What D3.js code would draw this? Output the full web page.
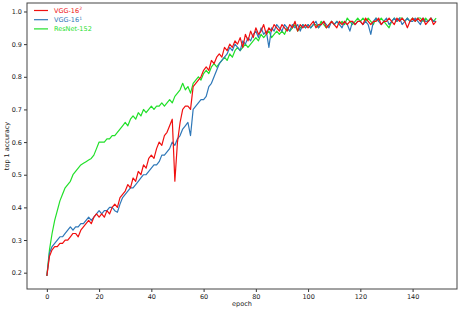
<!DOCTYPE html>
<html>
<head>
<meta charset="utf-8">
<script src="https://cdn.jsdelivr.net/npm/d3@7"></script>
<style>
  body { margin: 0; background: #fff; }
  text { font-family: "DejaVu Sans", sans-serif; }
</style>
</head>
<body>
<svg id="chart" width="460" height="311"></svg>
<script>
// values, one per epoch (0..149)
const vgg16b = [
  0.19, 0.25, 0.27, 0.28, 0.28, 0.29, 0.29, 0.30, 0.30, 0.31,
  0.32, 0.32, 0.31, 0.33, 0.34, 0.35, 0.36, 0.35, 0.37, 0.38,
  0.37, 0.38, 0.37, 0.39, 0.38, 0.40, 0.41, 0.40, 0.43, 0.44,
  0.45, 0.47, 0.46, 0.49, 0.48, 0.51, 0.50, 0.53, 0.52, 0.55,
  0.56, 0.55, 0.58, 0.60, 0.59, 0.62, 0.63, 0.65, 0.67, 0.48,
  0.60, 0.66, 0.70, 0.71, 0.71, 0.70, 0.77, 0.78, 0.79, 0.80,
  0.82, 0.83, 0.82, 0.85, 0.84, 0.86, 0.87, 0.86, 0.89, 0.88,
  0.90, 0.89, 0.91, 0.90, 0.92, 0.89, 0.93, 0.91, 0.94, 0.92,
  0.95, 0.93, 0.94, 0.96, 0.93, 0.95, 0.94, 0.96, 0.95, 0.94,
  0.96, 0.95, 0.94, 0.96, 0.95, 0.97, 0.94, 0.96, 0.95, 0.96,
  0.95, 0.96, 0.97, 0.95, 0.96, 0.96, 0.97, 0.95, 0.96, 0.97,
  0.96, 0.95, 0.97, 0.96, 0.97, 0.96, 0.97, 0.97, 0.96, 0.97,
  0.97, 0.96, 0.98, 0.97, 0.96, 0.97, 0.97, 0.98, 0.96, 0.97,
  0.97, 0.98, 0.97, 0.96, 0.98, 0.97, 0.98, 0.97, 0.95, 0.97,
  0.98, 0.97, 0.98, 0.97, 0.98, 0.96, 0.97, 0.98, 0.96, 0.97
];
const vgg16a = [
  0.19, 0.26, 0.28, 0.29, 0.30, 0.31, 0.31, 0.32, 0.33, 0.34,
  0.33, 0.34, 0.34, 0.35, 0.35, 0.36, 0.37, 0.36, 0.37, 0.38,
  0.39, 0.38, 0.39, 0.39, 0.40, 0.40, 0.39, 0.385, 0.41, 0.43,
  0.44, 0.45, 0.46, 0.46, 0.47, 0.48, 0.49, 0.50, 0.50, 0.51,
  0.52, 0.53, 0.53, 0.54, 0.56, 0.56, 0.57, 0.58, 0.60, 0.59,
  0.61, 0.62, 0.64, 0.65, 0.66, 0.62, 0.70, 0.71, 0.72, 0.73,
  0.73, 0.74, 0.77, 0.78, 0.80, 0.82, 0.84, 0.85, 0.86, 0.87,
  0.89, 0.88, 0.90, 0.89, 0.88, 0.91, 0.90, 0.92, 0.91, 0.93,
  0.94, 0.92, 0.95, 0.93, 0.94, 0.89, 0.95, 0.94, 0.96, 0.95,
  0.94, 0.96, 0.95, 0.94, 0.96, 0.95, 0.96, 0.94, 0.96, 0.95,
  0.96, 0.95, 0.96, 0.97, 0.95, 0.96, 0.97, 0.96, 0.95, 0.97,
  0.96, 0.97, 0.96, 0.95, 0.97, 0.96, 0.94, 0.97, 0.96, 0.97,
  0.97, 0.96, 0.97, 0.96, 0.93, 0.97, 0.98, 0.97, 0.96, 0.97,
  0.98, 0.96, 0.97, 0.98, 0.97, 0.98, 0.96, 0.97, 0.98, 0.97,
  0.97, 0.98, 0.97, 0.96, 0.98, 0.97, 0.97, 0.98, 0.97, 0.97
];
const resnet152 = [
  0.19, 0.27, 0.32, 0.36, 0.39, 0.42, 0.44, 0.46, 0.47, 0.48,
  0.50, 0.51, 0.52, 0.53, 0.535, 0.54, 0.545, 0.55, 0.56, 0.58,
  0.60, 0.60, 0.60, 0.61, 0.61, 0.62, 0.62, 0.63, 0.64, 0.65,
  0.66, 0.65, 0.67, 0.68, 0.67, 0.69, 0.68, 0.70, 0.69, 0.70,
  0.71, 0.70, 0.71, 0.71, 0.72, 0.71, 0.72, 0.73, 0.72, 0.74,
  0.75, 0.76, 0.78, 0.76, 0.77, 0.75, 0.78, 0.79, 0.80, 0.79,
  0.81, 0.82, 0.81, 0.83, 0.84, 0.83, 0.84, 0.85, 0.86, 0.85,
  0.87, 0.86, 0.88, 0.89, 0.88, 0.89, 0.90, 0.89, 0.90, 0.91,
  0.92, 0.91, 0.93, 0.92, 0.93, 0.94, 0.92, 0.93, 0.94, 0.93,
  0.94, 0.93, 0.95, 0.94, 0.95, 0.96, 0.94, 0.95, 0.96, 0.95,
  0.96, 0.95, 0.96, 0.96, 0.95, 0.97, 0.96, 0.95, 0.96, 0.97,
  0.96, 0.97, 0.96, 0.97, 0.96, 0.98, 0.97, 0.96, 0.97, 0.98,
  0.97, 0.98, 0.97, 0.98, 0.97, 0.96, 0.98, 0.97, 0.98, 0.97,
  0.96, 0.95, 0.97, 0.98, 0.97, 0.98, 0.98, 0.97, 0.98, 0.97,
  0.98, 0.97, 0.98, 0.98, 0.97, 0.98, 0.97, 0.98, 0.97, 0.98
];
const xTicks = [0, 20, 40, 60, 80, 100, 120, 140];
const yTicks = [0.2, 0.3, 0.4, 0.5, 0.6, 0.7, 0.8, 0.9, 1.0];

// plot area
const plotL = 27, plotR = 457, plotT = 3, plotB = 289;
const svg = d3.select("#chart");

const x = d3.scaleLinear().domain([-7.6, 157]).range([plotL, plotR]);
const y = d3.scaleLinear().domain([0.15, 1.026]).range([plotB, plotT]);

// axes
svg.append("g")
    .attr("transform", `translate(0,${plotB})`)
    .call(d3.axisBottom(x).tickValues(xTicks).tickSize(3).tickPadding(2).tickFormat(d3.format("d")))
    .call(g => g.select(".domain").remove())
    .call(g => g.selectAll("line").attr("stroke", "#333"))
    .call(g => g.selectAll("text").attr("font-size", 6.5).attr("fill", "#222"));

svg.append("g")
    .attr("transform", `translate(${plotL},0)`)
    .call(d3.axisLeft(y).tickValues(yTicks).tickSize(3).tickPadding(2).tickFormat(d3.format(".1f")))
    .call(g => g.select(".domain").remove())
    .call(g => g.selectAll("line").attr("stroke", "#333"))
    .call(g => g.selectAll("text").attr("font-size", 6.5).attr("fill", "#222"));

// lines
const line = d3.line().x((d, i) => x(i)).y(d => y(d));
const series = [
  { name: "ResNet-152", values: resnet152, color: "#22e02a" },
  { name: "VGG-16 1", values: vgg16a, color: "#2f78b8" },
  { name: "VGG-16 2", values: vgg16b, color: "#f01010" }
];
series.forEach(s => {
  svg.append("path")
      .datum(s.values)
      .attr("fill", "none")
      .attr("stroke", s.color)
      .attr("stroke-width", 1.2)
      .attr("stroke-linejoin", "round")
      .attr("d", line);
});

// frame
svg.append("rect")
    .attr("x", plotL).attr("y", plotT)
    .attr("width", plotR - plotL).attr("height", plotB - plotT)
    .attr("fill", "none").attr("stroke", "#444").attr("stroke-width", 1);

// legend
const legend = [
  { label: "VGG-16", sup: "2", color: "#f01010" },
  { label: "VGG-16", sup: "1", color: "#2f78b8" },
  { label: "ResNet-152", sup: "", color: "#22e02a" }
];
legend.forEach((d, i) => {
  const ly = 10.5 + i * 9.2;
  svg.append("line")
      .attr("x1", 34).attr("x2", 48).attr("y1", ly).attr("y2", ly)
      .attr("stroke", d.color).attr("stroke-width", 1.2);
  const t = svg.append("text")
      .attr("x", 54).attr("y", ly + 2.3)
      .attr("font-size", 6.5).attr("fill", d.color)
      .text(d.label);
  if (d.sup) {
    t.append("tspan").attr("dy", -2.5).attr("font-size", 4.5).text(d.sup);
  }
});

// axis labels
svg.append("text")
    .attr("x", (plotL + plotR) / 2).attr("y", 306)
    .attr("text-anchor", "middle").attr("font-size", 6.5).attr("fill", "#222")
    .text("epoch");

svg.append("text")
    .attr("transform", `translate(9,${(plotT + plotB) / 2}) rotate(-90)`)
    .attr("text-anchor", "middle").attr("font-size", 6.5).attr("fill", "#222")
    .text("top 1 accuracy");
</script>
</body>
</html>
